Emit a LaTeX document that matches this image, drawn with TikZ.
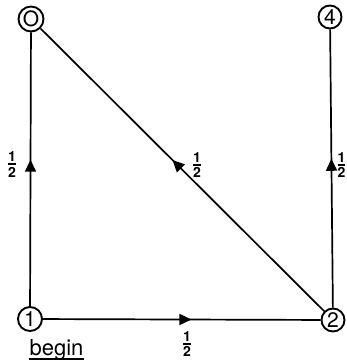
\documentclass[tikz,border=0pt]{standalone}
\usepackage{amsmath}
\usepackage{fontspec}
\setmainfont{TeX Gyre Heros}
\usetikzlibrary{arrows.meta,decorations.markings}
\newcommand\hf{\fontsize{14}{14}\selectfont$\genfrac{}{}{1.8pt}{1}{\mbox{\bfseries 1}}{\mbox{\bfseries 2}}$}
\tikzset{
  state/.style={circle,draw,line width=1.9pt,minimum size=23pt,inner sep=0pt,font=\fontsize{21}{21}\selectfont},
  edge/.style={line width=1.7pt,postaction={decorate},decoration={markings,mark=at position 0.535 with {\arrow{Triangle[length=12pt,width=11pt]}}}},
  frac/.style={inner sep=0pt}
}
\begin{document}
\begin{tikzpicture}[x=1pt,y=-1pt]
\useasboundingbox (0,0) rectangle (346,361);
\node[state,minimum size=25pt] (n0) at (31,19) {O};
\node[state] (n4) at (330,17) {4};
\node[state,minimum size=24pt] (n1) at (30,319) {1};
\node[state] (n2) at (333,320) {2};
\draw[edge] (n1) -- (n0);
\draw[edge] (n2) -- (n0);
\draw[edge] (n2) -- (n4);
\draw[edge] (n1) -- (n2);
\node[frac] (f1) at (12,164.5) {\hf};
\node[frac] (f2) at (197,165) {\hf};
\node[frac] (f3) at (341.5,165) {\hf};
\node[frac] (f4) at (187,344) {\hf};
\node[inner sep=0pt,anchor=base,font=\fontsize{22}{22}\selectfont] (beg) at (56.5,355) {begin};
\draw[line width=1.5pt] ([yshift=-4pt]beg.base west) -- ([yshift=-4pt]beg.base east);
\end{tikzpicture}
\end{document}
